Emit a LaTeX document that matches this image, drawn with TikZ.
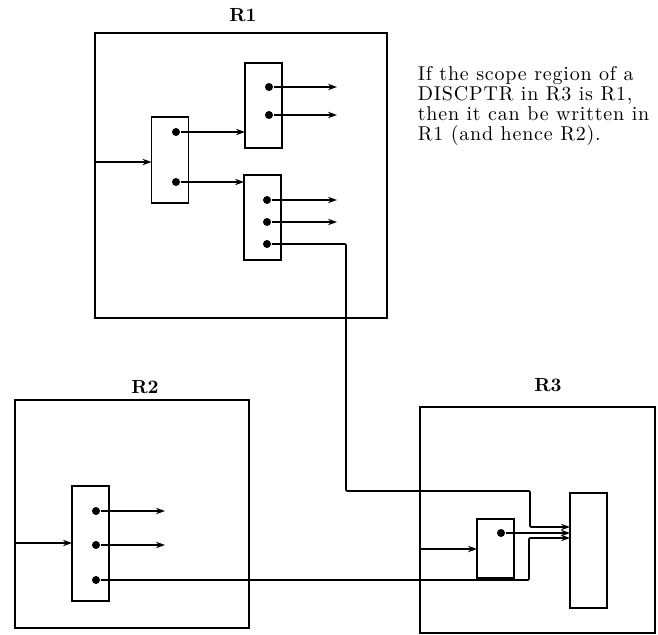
\documentclass[tikz,border=0pt]{standalone}
\usepackage{fontspec}
\usepackage{tikz}
\usetikzlibrary{arrows.meta, calc, positioning}
\newfontfamily\notefont{lmroman10-regular}[Extension=.otf, LetterSpace=4]

\begin{document}
\begin{tikzpicture}[
    x=0.5pt, y=-0.5pt,
    >={Stealth[length=4.5pt,width=3.2pt]},
    line width=0.85pt,
    region/.style={draw, inner sep=0pt, outer sep=0pt},
    unit/.style  ={draw, inner sep=0pt, outer sep=0pt,
                   minimum width=18.5pt},
    port/.style  ={circle, fill, inner sep=0pt, minimum size=4pt},
    arrow/.style ={->},
    wire/.style  ={->, rounded corners=0.5pt},
    rlbl/.style  ={font=\fontsize{9.5}{9.5}\selectfont\bfseries},
    note/.style  ={font=\notefont\fontsize{10}{10}\selectfont, align=left,
                   anchor=north west, inner sep=0pt},
  ]
  \useasboundingbox (0,0) rectangle (658,635);

  %% --- regions -----------------------------------------------------------
  \node[region, minimum width=146pt, minimum height=142.5pt] (R1) at (241,175.5) {};
  \node[region, minimum width=117pt, minimum height=114pt]   (R2) at (132,514) {};
  \node[region, minimum width=117.5pt, minimum height=113pt] (R3) at (537.5,520) {};

  \node[rlbl] (lblR1) at (243,15)  {R1};
  \node[rlbl] (lblR2) at (145,387) {R2};
  \node[rlbl] (lblR3) at (548,385) {R3};

  %% --- units -------------------------------------------------------------
  \node[unit, minimum height=43pt]   (A) at (170,160) {};
  \node[unit, minimum height=42.5pt] (B) at (263.5,105.5) {};
  \node[unit, minimum height=42.5pt] (C) at (262.5,217.5) {};
  \node[unit, minimum height=57.5pt] (D) at (90.5,543.5) {};
  \node[unit, minimum height=29.5pt] (E) at (495.5,548.5) {};
  \node[unit, minimum height=57.5pt] (F) at (588.5,550.5) {};

  %% --- ports -------------------------------------------------------------
  \node[port] (a1) at (176,132) {};
  \node[port] (a2) at (176,182) {};
  \node[port] (b1) at (269,87)  {};
  \node[port] (b2) at (269,115) {};
  \node[port] (c1) at (267,200) {};
  \node[port] (c2) at (267,222) {};
  \node[port] (c3) at (267,244) {};
  \node[port] (d1) at (96,511)  {};
  \node[port] (d2) at (96,545)  {};
  \node[port] (d3) at (96,580)  {};
  \node[port] (e1) at (501,533) {};

  %% --- open ends ---------------------------------------------------------
  \coordinate (b1x) at (337,87);
  \coordinate (b2x) at (337,115);
  \coordinate (c1x) at (337,200);
  \coordinate (c2x) at (337,222);
  \coordinate (d1x) at (165,511);
  \coordinate (d2x) at (165,545);

  %% --- arrows ------------------------------------------------------------
  % inputs from region borders
  \draw[arrow] (R1.west |- 0,162) -- (A.west |- 0,162);
  \draw[arrow] (R2.west |- 0,543) -- (D.west |- 0,543);
  \draw[arrow] (R3.west |- 0,549) -- (E.west |- 0,549);

  % inside R1
  \draw[arrow] (a1) -- (a1 -| B.west);
  \draw[arrow] (a2) -- (a2 -| C.west);
  \draw[arrow] (b1) -- (b1x);
  \draw[arrow] (b2) -- (b2x);
  \draw[arrow] (c1) -- (c1x);
  \draw[arrow] (c2) -- (c2x);

  % inside R2
  \draw[arrow] (d1) -- (d1x);
  \draw[arrow] (d2) -- (d2x);

  % long wires into F
  \draw[wire] (c3) -- (346,244) -- (346,491) -- (530,491) -- (530,527)
              -- (F.west |- 0,527);
  \draw[arrow] (e1) -- (e1 -| F.west);
  \draw[wire] (d3) -- (529,580) -- (529,538) -- (F.west |- 0,538);

  %% --- note --------------------------------------------------------------
  \node[note] (txt) at (417,66)
    {If the scope region of a\\
     DISCPTR in R3 is R1,\\
     then it can be written in\\
     R1 (and hence R2).};

\end{tikzpicture}
\end{document}
